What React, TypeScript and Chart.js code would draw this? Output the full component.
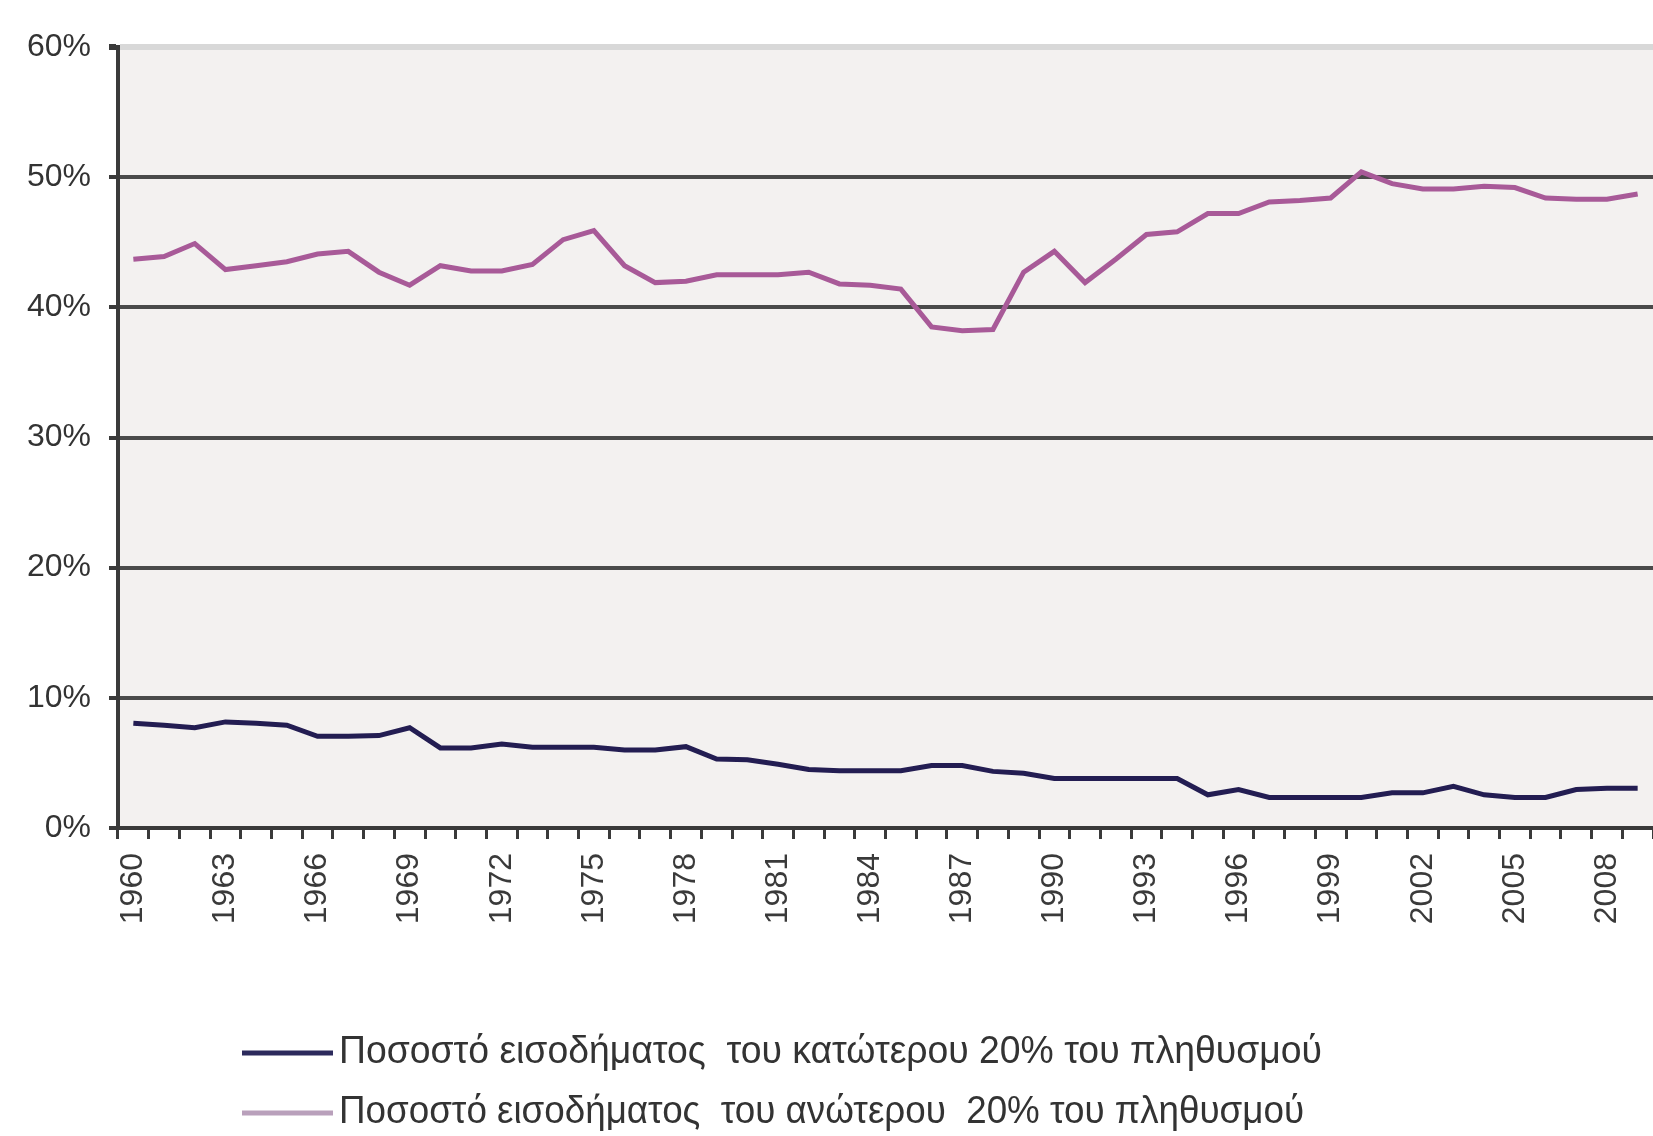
import React, { useEffect, useRef } from "react";
import { Chart, registerables } from "chart.js";

Chart.register(...registerables);

const years = [
  "1960", "1961", "1962", "1963", "1964", "1965", "1966", "1967", "1968", "1969",
  "1970", "1971", "1972", "1973", "1974", "1975", "1976", "1977", "1978", "1979",
  "1980", "1981", "1982", "1983", "1984", "1985", "1986", "1987", "1988", "1989",
  "1990", "1991", "1992", "1993", "1994", "1995", "1996", "1997", "1998", "1999",
  "2000", "2001", "2002", "2003", "2004", "2005", "2006", "2007", "2008", "2009",
];

const bottom20 = [
  8.05, 7.9, 7.7, 8.15, 8.05, 7.9, 7.05, 7.05, 7.1, 7.7,
  6.15, 6.15, 6.45, 6.2, 6.2, 6.2, 6.0, 6.0, 6.25, 5.3,
  5.25, 4.9, 4.5, 4.4, 4.4, 4.4, 4.8, 4.8, 4.35, 4.2,
  3.8, 3.8, 3.8, 3.8, 3.8, 2.55, 2.95, 2.35, 2.35, 2.35,
  2.35, 2.7, 2.7, 3.2, 2.55, 2.35, 2.35, 2.95, 3.05, 3.05,
];

const top20 = [
  43.7, 43.9, 44.9, 42.9, 43.2, 43.5, 44.1, 44.3, 42.7, 41.7,
  43.2, 42.8, 42.8, 43.3, 45.2, 45.9, 43.2, 41.9, 42.0, 42.5,
  42.5, 42.5, 42.7, 41.8, 41.7, 41.4, 38.5, 38.2, 38.3, 42.7,
  44.3, 41.9, 43.7, 45.6, 45.8, 47.2, 47.2, 48.1, 48.2, 48.4,
  50.4, 49.5, 49.1, 49.1, 49.3, 49.2, 48.4, 48.3, 48.3, 48.7,
];

const seriesLabels = [
  "Ποσοστό εισοδήματος  του κατώτερου 20% του πληθυσμού",
  "Ποσοστό εισοδήματος  του ανώτερου  20% του πληθυσμού",
];

const FONT = "'Liberation Sans', Arial, sans-serif";

const bgPlugin = {
  id: "plotBg",
  beforeDraw(chart: any) {
    const { ctx, chartArea } = chart;
    ctx.save();
    ctx.fillStyle = "#f3f1f0";
    ctx.fillRect(chartArea.left, chartArea.top, chartArea.right - chartArea.left, chartArea.bottom - chartArea.top);
    ctx.restore();
  },
};

const legendPlugin = {
  id: "customLegend",
  afterDraw(chart: any) {
    const { ctx } = chart;
    const rows = [
      { y: 1053, line: "#2c2a5c", width: 983 },
      { y: 1113, line: "#b9a0bb", width: 965 },
    ];
    ctx.save();
    rows.forEach((r, i) => {
      ctx.strokeStyle = r.line;
      ctx.lineWidth = 5;
      ctx.beginPath();
      ctx.moveTo(242, r.y);
      ctx.lineTo(333, r.y);
      ctx.stroke();
      ctx.fillStyle = "#333";
      ctx.font = `38px ${FONT}`;
      ctx.textBaseline = "middle";
      ctx.textAlign = "left";
      ctx.fillText(chart.data.datasets[i].label, 339, r.y, r.width);
    });
    ctx.restore();
  },
};

export default function App() {
  const ref = useRef<HTMLCanvasElement | null>(null);

  useEffect(() => {
    if (!ref.current) return;
    const chart = new Chart(ref.current, {
      type: "line",
      data: {
        labels: years,
        datasets: [
          {
            label: seriesLabels[0],
            data: bottom20,
            borderColor: "#231d52",
            borderWidth: 5,
            pointRadius: 0,
            tension: 0,
          },
          {
            label: seriesLabels[1],
            data: top20,
            borderColor: "#a85a98",
            borderWidth: 5,
            pointRadius: 0,
            tension: 0,
          },
        ],
      },
      options: {
        animation: false,
        responsive: false,
        maintainAspectRatio: false,
        layout: { padding: { left: 0, right: 0, top: 47, bottom: 0 } },
        plugins: {
          legend: { display: false },
          tooltip: { enabled: false },
        },
        scales: {
          x: {
            type: "category",
            offset: true,
            grid: {
              offset: true,
              drawOnChartArea: false,
              drawTicks: true,
              tickLength: 11,
              tickColor: "#3a3a3a",
              lineWidth: 3,
            },
            border: { display: true, color: "#3a3a3a", width: 4 },
            ticks: {
              autoSkip: false,
              maxRotation: 90,
              minRotation: 90,
              padding: 14,
              color: "#3a3a3a",
              font: { family: FONT, size: 32 },
              callback: (_v: any, i: number) => (i % 3 === 0 ? years[i] : ""),
            },
            afterFit: (scale: any) => {
              scale.height = 308;
              scale.paddingLeft = 0;
              scale.paddingRight = 0;
            },
          },
          y: {
            min: 0,
            max: 60,
            ticks: {
              stepSize: 10,
              padding: 18,
              color: "#333",
              font: { family: FONT, size: 32 },
              callback: (v: any) => `${v}%`,
            },
            grid: {
              color: (c: any) => (c.tick && c.tick.value === 60 ? "#d8d8d8" : "#4a4a4a"),
              lineWidth: (c: any) => (c.tick && c.tick.value === 60 ? 6 : 4),
              tickColor: "#3a3a3a",
              tickLength: 9,
            },
            border: { display: true, color: "#3a3a3a", width: 4 },
            afterFit: (scale: any) => {
              scale.width = 118;
              scale.paddingTop = 0;
              scale.paddingBottom = 0;
            },
          },
        },
      },
      plugins: [bgPlugin, legendPlugin],
    });
    return () => chart.destroy();
  }, []);

  return (
    <div style={{ position: "fixed", left: 0, top: 0, width: 1653, height: 1136, background: "#fff" }}>
      <canvas ref={ref} width={1653} height={1136} style={{ display: "block", width: 1653, height: 1136 }} />
    </div>
  );
}
